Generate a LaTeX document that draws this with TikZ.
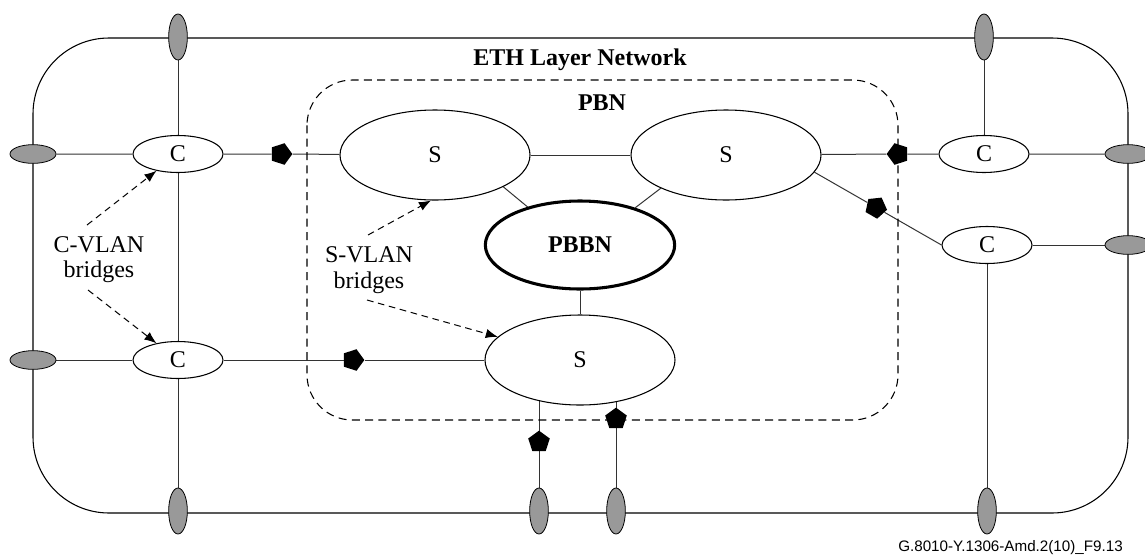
\documentclass[tikz,border=0pt]{standalone}
\usepackage{fontspec}
\setmainfont{Liberation Serif}
\newfontfamily\footfont{Liberation Sans}
\usetikzlibrary{shapes.geometric,arrows.meta,backgrounds,calc}
\begin{document}
\begin{tikzpicture}[x=0.75pt,y=-0.75pt,
  every node/.style={font=\fontsize{18}{19}\selectfont, inner sep=0pt},
  cnode/.style={ellipse, draw, fill=white, minimum width=67.5pt, minimum height=27.75pt, line width=0.8pt},
  snode/.style={ellipse, draw, fill=white, minimum width=142.5pt, minimum height=67.5pt, line width=0.8pt},
  bbnode/.style={ellipse, draw, fill=white, minimum width=142pt, minimum height=66pt, line width=2.3pt, font=\fontsize{18}{19}\selectfont\bfseries},
  vport/.style={ellipse, draw, fill=black!40, minimum width=14pt, minimum height=34.5pt, line width=0.6pt},
  hport/.style={ellipse, draw, fill=black!40, minimum width=34.5pt, minimum height=14pt, line width=0.6pt},
  penta/.style={regular polygon, regular polygon sides=5, fill=black, minimum size=17pt},
  link/.style={draw=black!80, line width=0.75pt},
  bridgearrow/.style={dash pattern=on 5pt off 3.5pt, line width=0.75pt, -{Latex[length=9pt,width=7pt]}},
  title/.style={anchor=base, font=\fontsize{18}{19}\selectfont\bfseries},
  lbl/.style={anchor=base},
]
\useasboundingbox (0,0) rectangle (1145,554);

% enclosures
\draw[line width=0.8pt, rounded corners=57pt] (33,38) rectangle (1128,513);
\draw[dash pattern=on 6pt off 4pt, line width=0.8pt, rounded corners=34pt] (307,80) rectangle (898,420);

% ports
\node[vport] (pt1) at (178,37) {};
\node[vport] (pt2) at (984,37) {};
\node[hport] (pl1) at (33,154) {};
\node[hport] (pl2) at (33,360) {};
\node[hport] (pr1) at (1128,154) {};
\node[hport] (pr2) at (1128,245) {};
\node[vport] (pb1) at (178,511) {};
\node[vport] (pb2) at (539,511) {};
\node[vport] (pb3) at (616,511) {};
\node[vport] (pb4) at (987,511) {};

% bridges
\node[cnode] (cl1) at (178,154) {C};
\node[cnode] (cl2) at (178,360) {C};
\node[cnode] (cr1) at (984,154) {C};
\node[cnode] (cr2) at (987,245) {C};
\node[snode] (s1) at (435,155) {S};
\node[snode] (s2) at (726,155) {S};
\node[snode] (s3) at (580,360) {S};
\node[bbnode] (bb) at (580,245) {PBBN};

% pentagons
\node[penta, rotate=-90] (p1) at (281,154) {};
\node[penta, rotate=90] (p2) at (898,154) {};
\node[penta, rotate=-30] (p3) at ($(s2.-11)!0.484!(cr2.west)$) {};
\node[penta, rotate=-90] (p4) at (353,360) {};
\node[penta] (p5) at (539,442) {};
\node[penta] (p6) at (616,419) {};

% links
\begin{pgfonlayer}{background}
\draw[link] (pt1) -- (pb1);
\draw[link] (pl1) -- (cl1) -- (p1) -- (s1);
\draw[link] (s1) -- (s2);
\draw[link] (s2) -- (p2) -- (cr1) -- (pr1);
\draw[link] (pt2) -- (cr1);
\draw[link] (s2.-11) -- (p3) -- (cr2.west);
\draw[link] (cr2) -- (pr2);
\draw[link] (cr2) -- (pb4);
\draw[link] (pl2) -- (cl2) -- (p4) -- (s3);
\draw[link] (s1.-25) -- (bb.144);
\draw[link] (s2.207) -- (bb.34);
\draw[link] (bb) -- (s3);
\draw[link] (pb2) -- (pb2 |- s3.center);
\draw[link] (pb3) -- (pb3 |- s3.center);
\end{pgfonlayer}

% labels
\node[title] (eth) at (580,65) {ETH Layer Network};
\node[title] (pbn) at (602,110) {PBN};
\node[lbl] (cv1) at (99,252) {C-VLAN};
\node[lbl] (cv2) at (99,277) {bridges};
\node[lbl] (sv1) at (369,262) {S-VLAN};
\node[lbl] (sv2) at (369,288) {bridges};
\node[anchor=base east, font=\footfont\fontsize{11.4}{13}\selectfont] (fig) at (1123,551) {G.8010-Y.1306-Amd.2(10)\_F9.13};

% annotation arrows
\coordinate (ca1) at (87,225);
\coordinate (ca2) at (88,290);
\coordinate (sa1) at (368,235);
\coordinate (sa2) at (367,300);
\draw[bridgearrow] (ca1) -- (cl1);
\draw[bridgearrow] (ca2) -- (cl2);
\draw[bridgearrow] (sa1) -- (s1.265);
\draw[bridgearrow] (sa2) -- (s3);
\end{tikzpicture}
\end{document}
